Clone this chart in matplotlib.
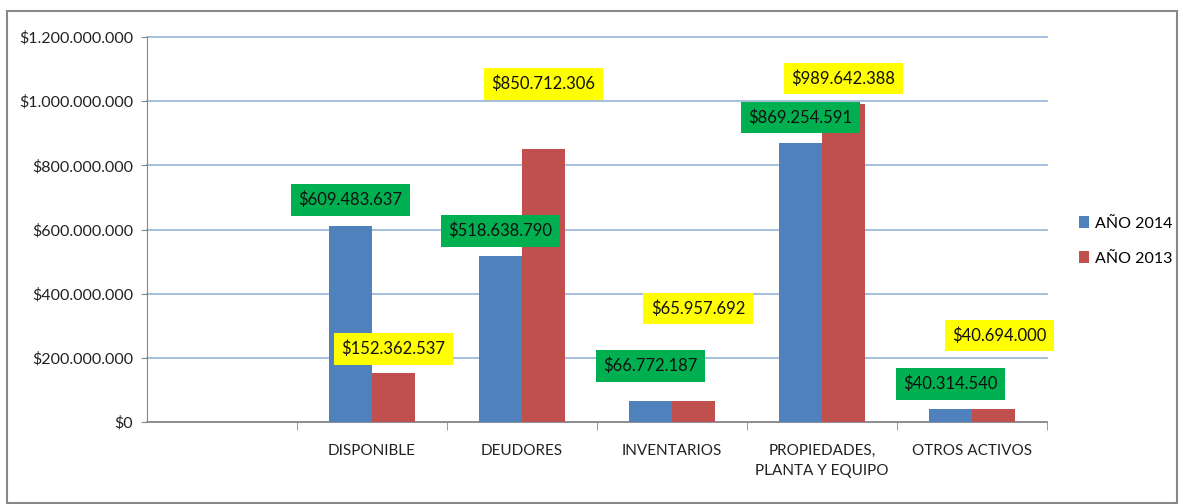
import numpy as np
import matplotlib
matplotlib.use("Agg")
import matplotlib.pyplot as plt
from matplotlib.patches import Rectangle
from matplotlib.ticker import FuncFormatter

plt.rcParams['font.family'] = ['Liberation Sans Narrow', 'Lato', 'DejaVu Sans']

categories = ["", "DISPONIBLE", "DEUDORES", "INVENTARIOS",
              "PROPIEDADES,\nPLANTA Y EQUIPO", "OTROS ACTIVOS"]
series_names = ["AÑO 2014", "AÑO 2013"]
vals_2014 = [0, 609483637, 518638790, 66772187, 869254591, 40314540]
vals_2013 = [0, 152362537, 850712306, 65957692, 989642388, 40694000]
show_label = [False, True, True, True, True, True]

# label box placement, as (x shift in slot units, height above bar top)
lab_off_2014 = [(0, 0), (0.0, 83e6), (0.0, 77e6), (0.0, 108e6), (0.0, 80e6), (0.0, 78e6)]
lab_off_2013 = [(0, 0), (0.0, 75e6), (0.0, 203e6), (0.03, 288e6), (0.0, 81e6), (0.04, 229e6)]

blue = "#4F81BD"
red = "#C0504D"
green = "#00B050"
yellow = "#FFFF00"


def money(v, pos=None):
    return "$" + f"{int(v):,}".replace(",", ".")


def main():
    fig = plt.figure(figsize=(11.83, 5.04), dpi=100)
    fig.patches.append(Rectangle((7 / 1183, 0.002), 1170 / 1183, 1 - 12 / 504,
                                 transform=fig.transFigure, fill=False,
                                 edgecolor="#888888", linewidth=1.5))
    ax = fig.add_axes([147 / 1183, 82 / 504, 900 / 1183, 385 / 504])

    x = np.arange(len(categories))
    w = 0.287
    ax.bar(x - w / 2, vals_2014, w, color=blue, label=series_names[0], zorder=3)
    ax.bar(x + w / 2, vals_2013, w, color=red, label=series_names[1], zorder=3)

    for i in range(len(categories)):
        if not show_label[i]:
            continue
        dx, dy = lab_off_2014[i]
        ax.text(x[i] - w / 2 + dx, vals_2014[i] + dy, money(vals_2014[i]),
                ha="center", va="center", fontsize=12, color="#111111", zorder=5,
                bbox=dict(boxstyle="square,pad=0.45", fc=green, ec="none"))
        dx, dy = lab_off_2013[i]
        ax.text(x[i] + w / 2 + dx, vals_2013[i] + dy, money(vals_2013[i]),
                ha="center", va="center", fontsize=12, color="#111111", zorder=5,
                bbox=dict(boxstyle="square,pad=0.45", fc=yellow, ec="none"))

    ax.set_xlim(-0.5, len(categories) - 0.5)
    ax.set_ylim(0, 1.2e9)
    ax.set_yticks(np.arange(0, 1.2e9 + 1, 2e8))
    ax.yaxis.set_major_formatter(FuncFormatter(money))
    ax.grid(axis="y", color="#95B3D7", linewidth=1.2, zorder=0)
    for gl in ax.get_ygridlines():
        gl.set_clip_on(False)

    ax.set_xticks(x)
    ax.set_xticklabels(categories, fontsize=11, color="#222222", linespacing=1.5)
    ax.tick_params(axis="x", which="major", length=0, pad=16)
    ax.set_xticks(np.arange(0.5, len(categories) - 0.4, 1), minor=True)
    ax.tick_params(axis="x", which="minor", length=6, color="#888888", direction="out")
    ax.tick_params(axis="y", length=4, color="#888888", labelsize=11.5,
                   labelcolor="#222222", pad=6)

    for s in ["top", "right"]:
        ax.spines[s].set_visible(False)
    ax.spines["left"].set_color("#888888")
    ax.spines["bottom"].set_color("#888888")
    ax.spines["bottom"].set_linewidth(1.2)

    ax.legend(loc="center left", bbox_to_anchor=(1.02, 0.47), frameon=False,
              fontsize=11.5, handlelength=0.6, handleheight=0.7,
              labelspacing=1.3, handletextpad=0.4)

    fig.savefig("out.png", dpi=100)


if __name__ == "__main__":
    main()
